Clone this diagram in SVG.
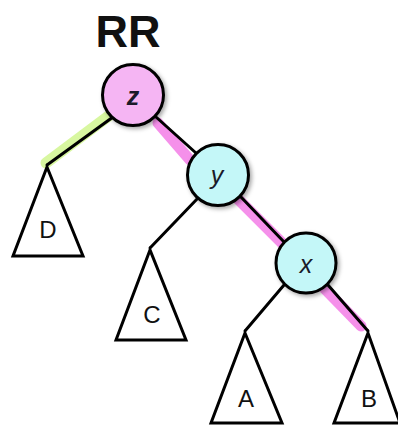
<svg xmlns="http://www.w3.org/2000/svg" width="398" height="427" viewBox="0 0 398 427">
<style>
.edge{stroke:#000;stroke-width:3;stroke-linecap:round;fill:none}
.hl-g{stroke:#d8f7a0;stroke-width:11;stroke-linecap:round;fill:none}
.hl-p{stroke:#f590ea;stroke-width:11;stroke-linecap:round;fill:none}
.tri{fill:#fff;stroke:#000;stroke-width:3;stroke-linejoin:miter}
.node{stroke:#000;stroke-width:3}
.nl{font-family:"Liberation Sans",Arial,sans-serif;font-style:italic;font-size:25px;fill:#1a1a2a;text-anchor:middle}
.tl{font-family:"Liberation Sans",Arial,sans-serif;font-size:24px;fill:#111;text-anchor:middle}
</style>
<defs>
<filter id="sh" x="-30%" y="-30%" width="160%" height="160%">
<feDropShadow dx="2" dy="2" stdDeviation="2" flood-color="#000" flood-opacity="0.35"/>
</filter>
</defs>
<text x="128" y="47" font-family="Liberation Sans,Arial,sans-serif" font-weight="bold" font-size="45" fill="#111" text-anchor="middle">RR</text>
<g id="connectors">
<line class="hl-g" x1="46" y1="163" x2="110" y2="115"/>
<line class="hl-p" x1="158" y1="123" x2="190" y2="160"/>
<line class="hl-p" x1="236" y1="197" x2="285" y2="246"/>
<line class="hl-p" x1="322" y1="286" x2="361" y2="326"/>
<line class="edge" x1="47" y1="165" x2="113" y2="117"/>
<line class="edge" x1="156" y1="117" x2="196" y2="153"/>
<line class="edge" x1="240" y1="196" x2="285" y2="243"/>
<line class="edge" x1="198" y1="198" x2="150" y2="248"/>
<line class="edge" x1="284" y1="285" x2="245" y2="331"/>
<line class="edge" x1="328" y1="285" x2="368" y2="331"/>
</g>
<g id="node-z">
<circle class="node" cx="133" cy="95" r="30.5" fill="#f5b5f3" filter="url(#sh)"/>
<text class="nl" x="133" y="105" font-weight="bold">z</text>
</g>
<g id="node-y">
<circle class="node" cx="218" cy="175" r="30.5" fill="#c4f7f8" filter="url(#sh)"/>
<text class="nl" x="217" y="184">y</text>
</g>
<g id="node-x">
<circle class="node" cx="306" cy="263" r="30" fill="#c4f7f8" filter="url(#sh)"/>
<text class="nl" x="306" y="273">x</text>
</g>
<g id="tri-D">
<polygon class="tri" points="47,167 13,256 83,256"/>
<text class="tl" x="48" y="238">D</text>
</g>
<g id="tri-C">
<polygon class="tri" points="150,250 116,340 186,340"/>
<text class="tl" x="152" y="323">C</text>
</g>
<g id="tri-A">
<polygon class="tri" points="245,333 211,423 282,423"/>
<text class="tl" x="246" y="407">A</text>
</g>
<g id="tri-B">
<polygon class="tri" points="368,333 334,423 400,423"/>
<text class="tl" x="369" y="407">B</text>
</g>
</svg>
